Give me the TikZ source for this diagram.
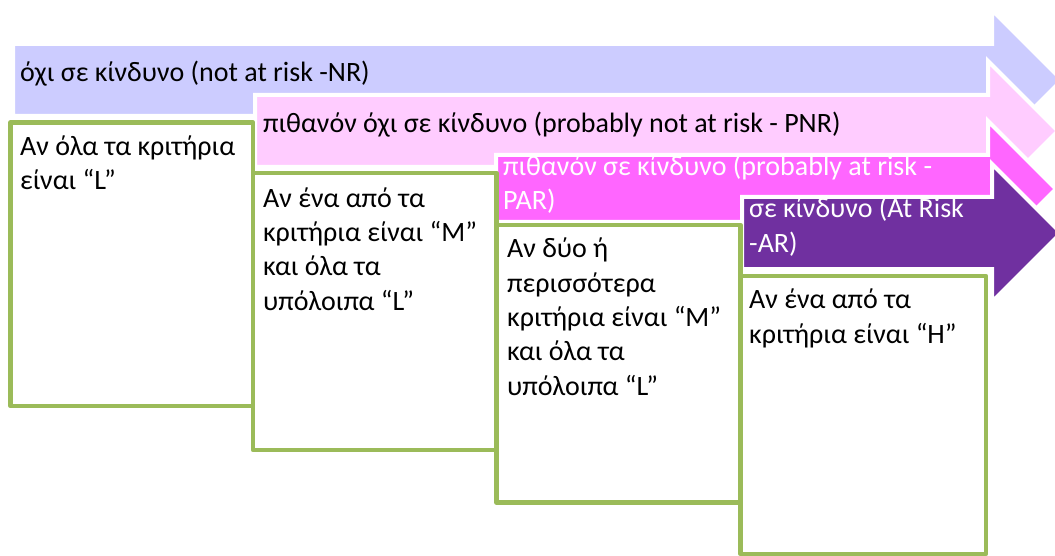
\documentclass[tikz,border=0pt]{standalone}
\usepackage{fontspec}
\setmainfont{Carlito}
\definecolor{nrblue}{HTML}{CCCCFF}
\definecolor{pnrpink}{HTML}{FFCCFF}
\definecolor{parmag}{HTML}{FF66FF}
\definecolor{arpurple}{HTML}{7030A0}
\definecolor{critgreen}{HTML}{9BBB59}
\tikzset{
  riskarrow/.style={draw=white, line width=4pt, line join=miter},
  critbox/.style={draw=critgreen, fill=white, line width=4.5pt, line join=round},
  lbl/.style={anchor=base west, inner sep=0pt, align=left,
    font=\fontsize{28}{34.3}\selectfont},
}
\begin{document}
\begin{tikzpicture}[x=1pt,y=-1pt]
\useasboundingbox (0,0) rectangle (1055,556);
\clip (0,0) rectangle (1055,556);
% arrow 1: not at risk
\path[riskarrow, fill=nrblue] (13,44) -- (992,44) -- (992,10) -- (1062,80) -- (992,150) -- (992,116) -- (13,116) -- cycle;
\node[lbl, text=black] (nr) at (20,82) {όχι σε κίνδυνο (not at risk -NR)};
% arrow 2: probably not at risk
\path[riskarrow, fill=pnrpink] (255,95) -- (988,95) -- (988,61) -- (1058,131) -- (988,201) -- (988,167) -- (255,167) -- cycle;
\node[lbl, text=black] (pnr) at (263,133) {πιθανόν όχι σε κίνδυνο (probably not at risk - PNR)};
% arrow 3: probably at risk
\path[riskarrow, fill=parmag] (496,155) -- (988,155) -- (988,121) -- (1056,189) -- (988,257) -- (988,222) -- (496,222) -- cycle;
\node[lbl, text=white] (par) at (503,210) {πιθανόν σε κίνδυνο (probably at risk -\\PAR)};
% arrow 4: at risk
\path[riskarrow, fill=arpurple] (742,197) -- (992,197) -- (992,164) -- (1061,233) -- (992,302) -- (992,269) -- (742,269) -- cycle;
\node[lbl, text=white] (ar) at (749,252) {σε κίνδυνο (At Risk\\-AR)};
% criteria boxes
\draw[critbox] (10.5,122.5) rectangle (253,406);
\node[lbl] (c1) at (20,190) {Αν όλα τα κριτήρια\\είναι “L”};
\draw[critbox] (253,173) rectangle (496.5,450);
\node[lbl] (c2) at (263,310) {Αν ένα από τα\\κριτήρια είναι “M”\\και όλα τα\\υπόλοιπα “L”};
\draw[critbox] (496.5,225) rectangle (740.5,502.5);
\node[lbl] (c3) at (507,395) {Αν δύο ή\\περισσότερα\\κριτήρια είναι “M”\\και όλα τα\\υπόλοιπα “L”};
\draw[critbox] (740.5,276) rectangle (986,554);
\node[lbl] (c4) at (749,343) {Αν ένα από τα\\κριτήρια είναι “H”};
\end{tikzpicture}
\end{document}
